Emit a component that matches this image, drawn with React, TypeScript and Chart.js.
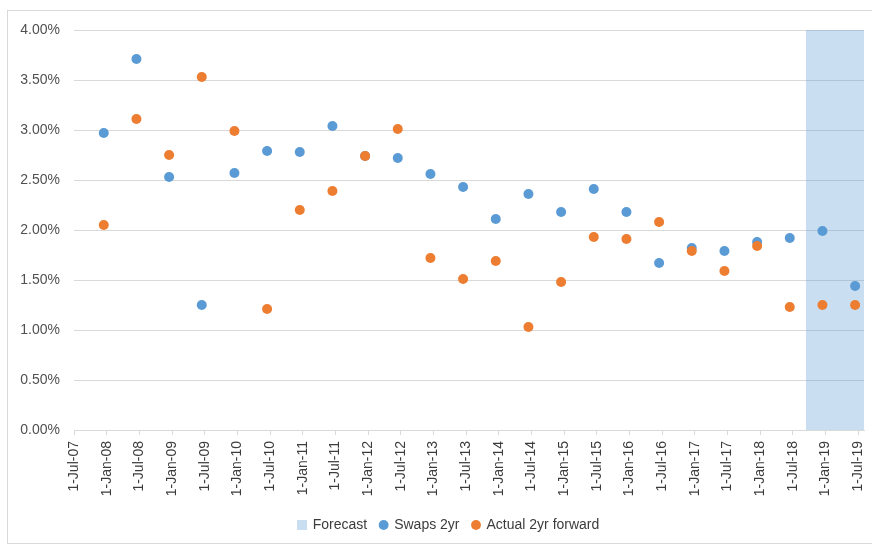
import React, { useEffect, useRef } from 'react';
import { Chart, registerables } from 'chart.js';

Chart.register(...registerables);

// ---- data ----
const tickLabels = [
  '1-Jul-07', '1-Jan-08', '1-Jul-08', '1-Jan-09', '1-Jul-09', '1-Jan-10', '1-Jul-10',
  '1-Jan-11', '1-Jul-11', '1-Jan-12', '1-Jul-12', '1-Jan-13', '1-Jul-13', '1-Jan-14',
  '1-Jul-14', '1-Jan-15', '1-Jul-15', '1-Jan-16', '1-Jul-16', '1-Jan-17', '1-Jul-17',
  '1-Jan-18', '1-Jul-18', '1-Jan-19', '1-Jul-19',
];

const observationDates = [
  '15-Dec-07', '15-Jun-08', '15-Dec-08', '15-Jun-09', '15-Dec-09', '15-Jun-10',
  '15-Dec-10', '15-Jun-11', '15-Dec-11', '15-Jun-12', '15-Dec-12', '15-Jun-13',
  '15-Dec-13', '15-Jun-14', '15-Dec-14', '15-Jun-15', '15-Dec-15', '15-Jun-16',
  '15-Dec-16', '15-Jun-17', '15-Dec-17', '15-Jun-18', '15-Dec-18', '15-Jun-19',
];

const swaps2yr = [
  2.97, 3.71, 2.53, 1.25, 2.57, 2.79, 2.78, 3.04, 2.74, 2.72, 2.56, 2.43,
  2.11, 2.36, 2.18, 2.41, 2.18, 1.67, 1.82, 1.79, 1.88, 1.92, 1.99, 1.44,
];

const actual2yrForward = [
  2.05, 3.11, 2.75, 3.53, 2.99, 1.21, 2.20, 2.39, 2.74, 3.01, 1.72, 1.51,
  1.69, 1.03, 1.48, 1.93, 1.91, 2.08, 1.79, 1.59, 1.84, 1.23, 1.25, 1.25,
];

const forecastStartDate = '13-Sep-18';
const axisStartDate = '1-Jul-07';
const axisEndDate = '4-Aug-19';
const yMin = 0;
const yMax = 4;
const yStep = 0.5;

const seriesNames = { forecast: 'Forecast', swaps: 'Swaps 2yr', actual: 'Actual 2yr forward' };

// ---- helpers ----
const MONTHS = ['Jan', 'Feb', 'Mar', 'Apr', 'May', 'Jun', 'Jul', 'Aug', 'Sep', 'Oct', 'Nov', 'Dec'];
function monthsFromStart(d: string): number {
  const [day, mon, yy] = d.split('-');
  const year = 2000 + Number(yy);
  return (year - 2007) * 12 + (MONTHS.indexOf(mon) - 6) + (Number(day) - 1) / 30;
}

const FONT = "'Liberation Sans', Arial, sans-serif";
const TEXT = '#505050';
const TEXT_DARK = '#3c3c3c';
const GRID = '#d9d9d9';
const BLUE = '#5B9BD5';
const ORANGE = '#ED7D31';
const BAND = 'rgba(91,155,213,0.33)';

const legendShift = {
  id: 'legendShift',
  afterLayout(chart: any) {
    const l = chart.legend;
    if (l) {
      l.left += 9;
      l.right += 9;
    }
  },
};

export default function App() {
  const ref = useRef<HTMLCanvasElement | null>(null);

  useEffect(() => {
    if (!ref.current) return;

    const swatch = document.createElement('canvas');
    swatch.width = 10;
    swatch.height = 10;
    const sctx = swatch.getContext('2d');
    if (sctx) {
      sctx.fillStyle = BAND;
      sctx.fillRect(0, 0, 10, 10);
    }

    const tickValues = tickLabels.map(monthsFromStart);
    const xs = observationDates.map(monthsFromStart);
    const fStart = monthsFromStart(forecastStartDate);
    const xMin = monthsFromStart(axisStartDate);
    const xMax = monthsFromStart(axisEndDate);

    const chart = new Chart(ref.current, {
      type: 'scatter',
      data: {
        datasets: [
          {
            label: seriesNames.forecast,
            data: [
              { x: fStart, y: yMax },
              { x: xMax, y: yMax },
            ],
            showLine: true,
            fill: 'origin',
            backgroundColor: BAND,
            borderColor: 'rgba(0,0,0,0)',
            borderWidth: 0,
            pointRadius: 0,
            pointStyle: swatch as any,
            order: 2,
          } as any,
          {
            label: seriesNames.swaps,
            data: xs.map((x, i) => ({ x, y: swaps2yr[i] })),
            backgroundColor: BLUE,
            borderColor: BLUE,
            pointRadius: 5,
            pointBorderWidth: 0,
            pointStyle: 'circle',
            order: 1,
          },
          {
            label: seriesNames.actual,
            data: xs.map((x, i) => ({ x, y: actual2yrForward[i] })),
            backgroundColor: ORANGE,
            borderColor: ORANGE,
            pointRadius: 5,
            pointBorderWidth: 0,
            pointStyle: 'circle',
            order: 0,
          },
        ],
      },
      plugins: [legendShift],
      options: {
        animation: false,
        responsive: false,
        maintainAspectRatio: false,
        events: [],
        layout: { padding: { left: 16, right: 8, top: 30, bottom: 2 } },
        plugins: {
          tooltip: { enabled: false },
          title: { display: false },
          legend: {
            position: 'bottom',
            reverse: true,
            labels: {
              usePointStyle: true,
              boxWidth: 7,
              boxHeight: 7,
              padding: 13,
              color: TEXT_DARK,
              font: { family: FONT, size: 14 },
            },
          },
        },
        scales: {
          x: {
            type: 'linear',
            min: xMin,
            max: xMax,
            afterBuildTicks: (scale: any) => {
              scale.ticks = tickValues.map((v) => ({ value: v }));
            },
            afterFit: (scale: any) => {
              scale.height = 75;
              scale.paddingLeft = 0;
              scale.paddingRight = 0;
            },
            grid: {
              drawOnChartArea: false,
              drawTicks: true,
              tickLength: 5,
              color: GRID,
            },
            border: { display: true, color: GRID },
            ticks: {
              autoSkip: false,
              minRotation: 90,
              maxRotation: 90,
              padding: 6,
              color: TEXT_DARK,
              font: { family: FONT, size: 14 },
              callback: (v: any) => {
                const idx = tickValues.findIndex((t) => Math.abs(t - Number(v)) < 1e-6);
                return idx >= 0 ? tickLabels[idx] : '';
              },
            },
          },
          y: {
            type: 'linear',
            min: yMin,
            max: yMax,
            afterFit: (scale: any) => {
              scale.width = 58;
            },
            grid: { color: GRID, drawTicks: false },
            border: { display: false },
            ticks: {
              stepSize: yStep,
              padding: 14,
              color: TEXT,
              font: { family: FONT, size: 14 },
              callback: (v: any) => Number(v).toFixed(2) + '%',
            },
          },
        },
      },
    });

    return () => chart.destroy();
  }, []);

  return (
    <div
      style={{
        position: 'absolute',
        left: 0,
        top: 0,
        width: 872,
        height: 544,
        overflow: 'hidden',
        background: '#fff',
      }}
    >
      <div
        style={{
          position: 'absolute',
          left: 7,
          top: 10,
          width: 900,
          height: 532,
          border: `1px solid ${GRID}`,
        }}
      />
      <canvas ref={ref} width={872} height={544} style={{ position: 'absolute', left: 0, top: 0 }} />
    </div>
  );
}
